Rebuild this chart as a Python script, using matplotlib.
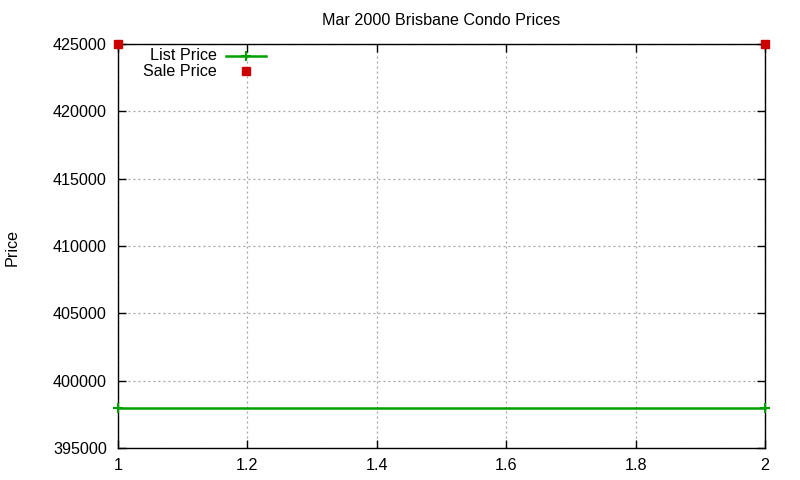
import matplotlib
matplotlib.use("Agg")
import matplotlib.pyplot as plt
from matplotlib.lines import Line2D

plt.rcParams['font.family'] = ['Liberation Sans', 'DejaVu Sans']

title = "Mar 2000 Brisbane Condo Prices"
x_vals = [1, 2]
list_price = [398000, 398000]
sale_price = [425000, 425000]
series_names = ["List Price", "Sale Price"]
xticks = [1, 1.2, 1.4, 1.6, 1.8, 2]
yticks = [395000, 400000, 405000, 410000, 415000, 420000, 425000]

green = "#00a000"
red = "#cc0000"
FS = 11.6

fig = plt.figure(figsize=(8, 4.8), dpi=100)
ax = fig.add_axes([118/800, 1-448/480, (765-118)/800, (448-44)/480])

ax.plot(x_vals, list_price, color=green, lw=1.8, marker='+', ms=7, mew=1.5, clip_on=False, zorder=3)
ax.plot(x_vals, sale_price, color=red, lw=0, marker='s', ms=6, clip_on=False, zorder=4)

ax.set_xlim(1, 2)
ax.set_ylim(395000, 425000)
ax.set_xticks(xticks)
ax.set_xticklabels([f"{t:g}" for t in xticks])
ax.set_yticks(yticks)
ax.set_yticklabels([str(t) for t in yticks])
ax.tick_params(direction='in', top=True, right=True, length=6, width=1, labelsize=FS)
ax.tick_params(axis='y', pad=8)
ax.tick_params(axis='x', pad=7)
ax.grid(True, color='#a0a0a0', linestyle=(0, (1.5, 2.5)), lw=0.9)
for s in ax.spines.values():
    s.set_linewidth(1)
    s.set_color('black')

ax.set_title(title, fontsize=FS, pad=14)
fig.text(12/800, 1-247/480, "Price", rotation=90, ha='center', va='center', fontsize=FS)

# gnuplot-style legend: text right-aligned, sample to the right
def fx(px):
    return (px-118)/647
def fy(py):
    return (448-py)/404
ax.text(fx(217), fy(56), series_names[0], transform=ax.transAxes, ha='right', va='center', fontsize=FS)
ax.text(fx(217), fy(71), series_names[1], transform=ax.transAxes, ha='right', va='center', fontsize=FS)
ax.add_line(Line2D([fx(226), fx(266)], [fy(56), fy(56)], transform=ax.transAxes, color=green, lw=1.8))
ax.add_line(Line2D([fx(246)], [fy(56)], transform=ax.transAxes, color=green, marker='+', ms=7, mew=1.5, lw=0))
ax.add_line(Line2D([fx(246)], [fy(71)], transform=ax.transAxes, color=red, marker='s', ms=6, lw=0))

fig.savefig("out.png", dpi=100)
